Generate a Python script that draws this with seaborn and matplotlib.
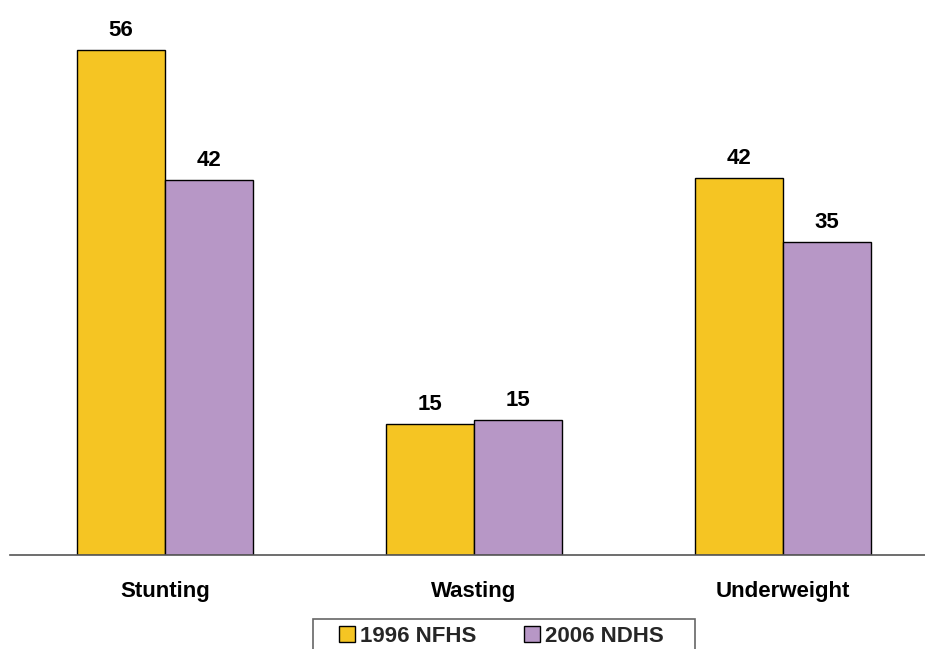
import matplotlib
matplotlib.use("Agg")
import matplotlib.pyplot as plt
import seaborn as sns
import pandas as pd
from matplotlib.patches import Patch, Rectangle

categories = ["Stunting", "Wasting", "Underweight"]
series = ["1996 NFHS", "2006 NDHS"]
values_1996 = [56.0, 14.5, 41.8]
values_2006 = [41.6, 15.0, 34.7]
labels_1996 = ["56", "15", "42"]
labels_2006 = ["42", "15", "35"]
colors = ["#F5C523", "#B797C6"]

df = pd.DataFrame({
    "category": categories * 2,
    "survey": [series[0]] * 3 + [series[1]] * 3,
    "value": values_1996 + values_2006,
})

sns.set_theme(style="white")
plt.rcParams["font.family"] = ["Liberation Sans", "DejaVu Sans"]

W, H = 925, 649
fig = plt.figure(figsize=(W / 100, H / 100), dpi=100)
ax = fig.add_axes([10 / W, 1 - 555 / H, 1 - 10 / W, 555 / H])

sns.barplot(data=df, x="category", y="value", hue="survey", palette=colors,
            width=0.57, gap=0, edgecolor="black", linewidth=1.0, ax=ax,
            saturation=1, legend=False)

ax.set_xlim(-0.502, 2.46)
ax.set_ylim(0, 555 / 9.02)
for s in ["top", "right", "left"]:
    ax.spines[s].set_visible(False)
ax.spines["bottom"].set_color("#555555")
ax.spines["bottom"].set_linewidth(1.2)
ax.set_yticks([])
ax.set_xlabel("")
ax.set_ylabel("")
ax.tick_params(axis="x", length=0, pad=18.5)
for t in ax.get_xticklabels():
    t.set_fontsize(16)
    t.set_fontweight("bold")
    t.set_color("black")

for container, labs in zip(ax.containers, [labels_1996, labels_2006]):
    ax.bar_label(container, labels=labs, padding=6.5, fontsize=16,
                 fontweight="bold", color="black")

# legend frame (runs past the bottom edge, as in the reference)
fig.patches.append(Rectangle((313 / W, -0.05), (695 - 313) / W, (H - 619) / H + 0.05,
                             transform=fig.transFigure, facecolor="white",
                             edgecolor="#666666", linewidth=1.2, zorder=1))
handles = [Patch(facecolor=c, edgecolor="black", linewidth=1) for c in colors]
leg = fig.legend(handles, series, loc="upper left",
                 bbox_to_anchor=(339 / W, 1 - 626 / H), ncol=2,
                 frameon=False, prop={"size": 16, "weight": "bold"},
                 handlelength=0.7, handleheight=0.7, handletextpad=0.25,
                 columnspacing=2.15, borderpad=0, borderaxespad=0)
leg.set_zorder(2)

fig.savefig("out.png", dpi=100)
